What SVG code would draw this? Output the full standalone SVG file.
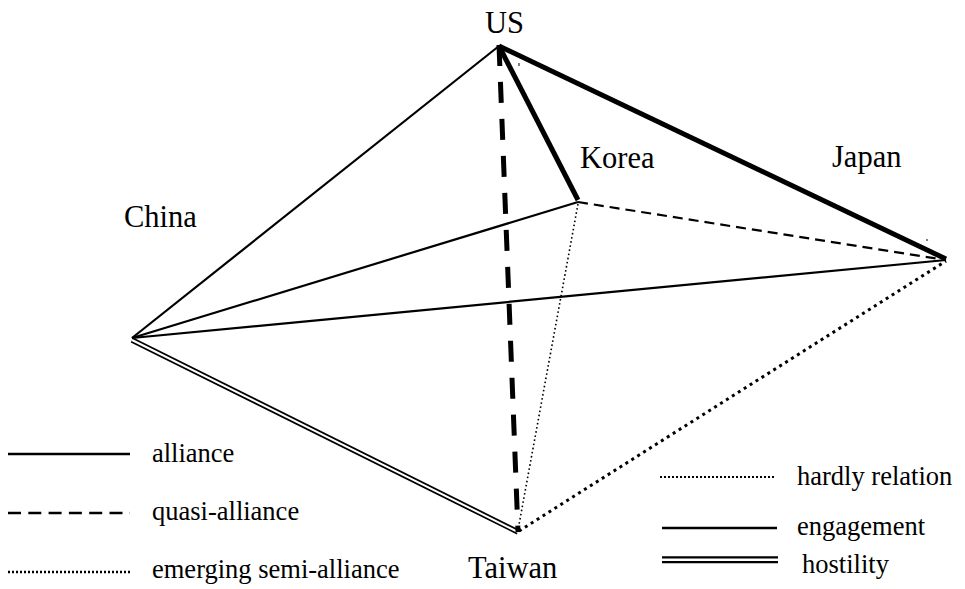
<svg xmlns="http://www.w3.org/2000/svg" width="965" height="589" viewBox="0 0 965 589">
<style>
.lbl{font-size:30.5px}
.lg{font-size:26.5px}
line{stroke:#000;fill:none}
.thin{stroke-width:2.2}
.thick{stroke-width:5}
.dash{stroke-width:5;stroke-dasharray:21 16}
.qdash{stroke-width:2.2;stroke-dasharray:10 6}
.dot1{stroke-width:1.6;stroke-dasharray:1.6 2.6}
.dot2{stroke-width:3;stroke-dasharray:3 4}
.dblo{stroke-width:5.5}
.dbli{stroke:#fff;stroke-width:2}
.tick{stroke-width:1}
</style>
<rect width="965" height="589" fill="#fff"/>
<g id="connectors">
  <line class="thin" x1="132" y1="338" x2="499" y2="46"/>
  <line class="thin" x1="132" y1="338" x2="578" y2="202"/>
  <line class="thin" x1="132" y1="338" x2="946" y2="260"/>
  <line class="qdash" x1="578" y1="202" x2="946" y2="260"/>
  <line class="dot1" x1="578" y1="204" x2="518" y2="530"/>
  <line class="dot2" x1="519" y1="531" x2="946" y2="261"/>
  <line class="dblo" x1="132" y1="340" x2="518" y2="532"/>
  <line class="dbli" x1="132" y1="340" x2="518" y2="532"/>
  <line class="thick" x1="499" y1="46" x2="946" y2="259"/>
  <line class="thick" x1="499" y1="46" x2="578" y2="200"/>
  <line class="dash" x1="499" y1="45" x2="518" y2="532"/>
  <line class="tick" x1="519" y1="63" x2="519" y2="66"/>
  <line class="tick" x1="927" y1="239" x2="927" y2="241"/>
</g>
<g fill="#000" font-family="'Liberation Serif', 'Times New Roman', serif">
<g id="node-us"><text class="lbl" x="485" y="33">US</text></g>
<g id="node-korea"><text class="lbl" x="580" y="168">Korea</text></g>
<g id="node-japan"><text class="lbl" x="832" y="167">Japan</text></g>
<g id="node-china"><text class="lbl" x="124" y="227">China</text></g>
<g id="node-taiwan"><text class="lbl" x="468" y="578">Taiwan</text></g>
<g id="legend">
  <line x1="8" y1="454" x2="130" y2="454" stroke-width="2.5"/>
  <text class="lg" x="152" y="462">alliance</text>
  <line x1="8" y1="513" x2="130" y2="513" stroke-width="2.5" stroke-dasharray="13 7.3"/>
  <text class="lg" x="152" y="520">quasi-alliance</text>
  <line x1="8" y1="572" x2="130" y2="572" stroke-width="2.5" stroke-dasharray="2 2"/>
  <text class="lg" x="152" y="578">emerging semi-alliance</text>
  <line x1="660" y1="477" x2="774" y2="477" stroke-width="2.2" stroke-dasharray="2 2"/>
  <text class="lg" x="797" y="485">hardly relation</text>
  <line x1="662" y1="528" x2="777" y2="528" stroke-width="2.5"/>
  <text class="lg" x="797" y="535">engagement</text>
  <line class="dblo" x1="662" y1="559.7" x2="778" y2="559.7" style="stroke-width:7"/>
  <line class="dbli" x1="662" y1="559.7" x2="778" y2="559.7" style="stroke-width:2.4"/>
  <text class="lg" x="802" y="573">hostility</text>
</g>
</g>
</svg>
